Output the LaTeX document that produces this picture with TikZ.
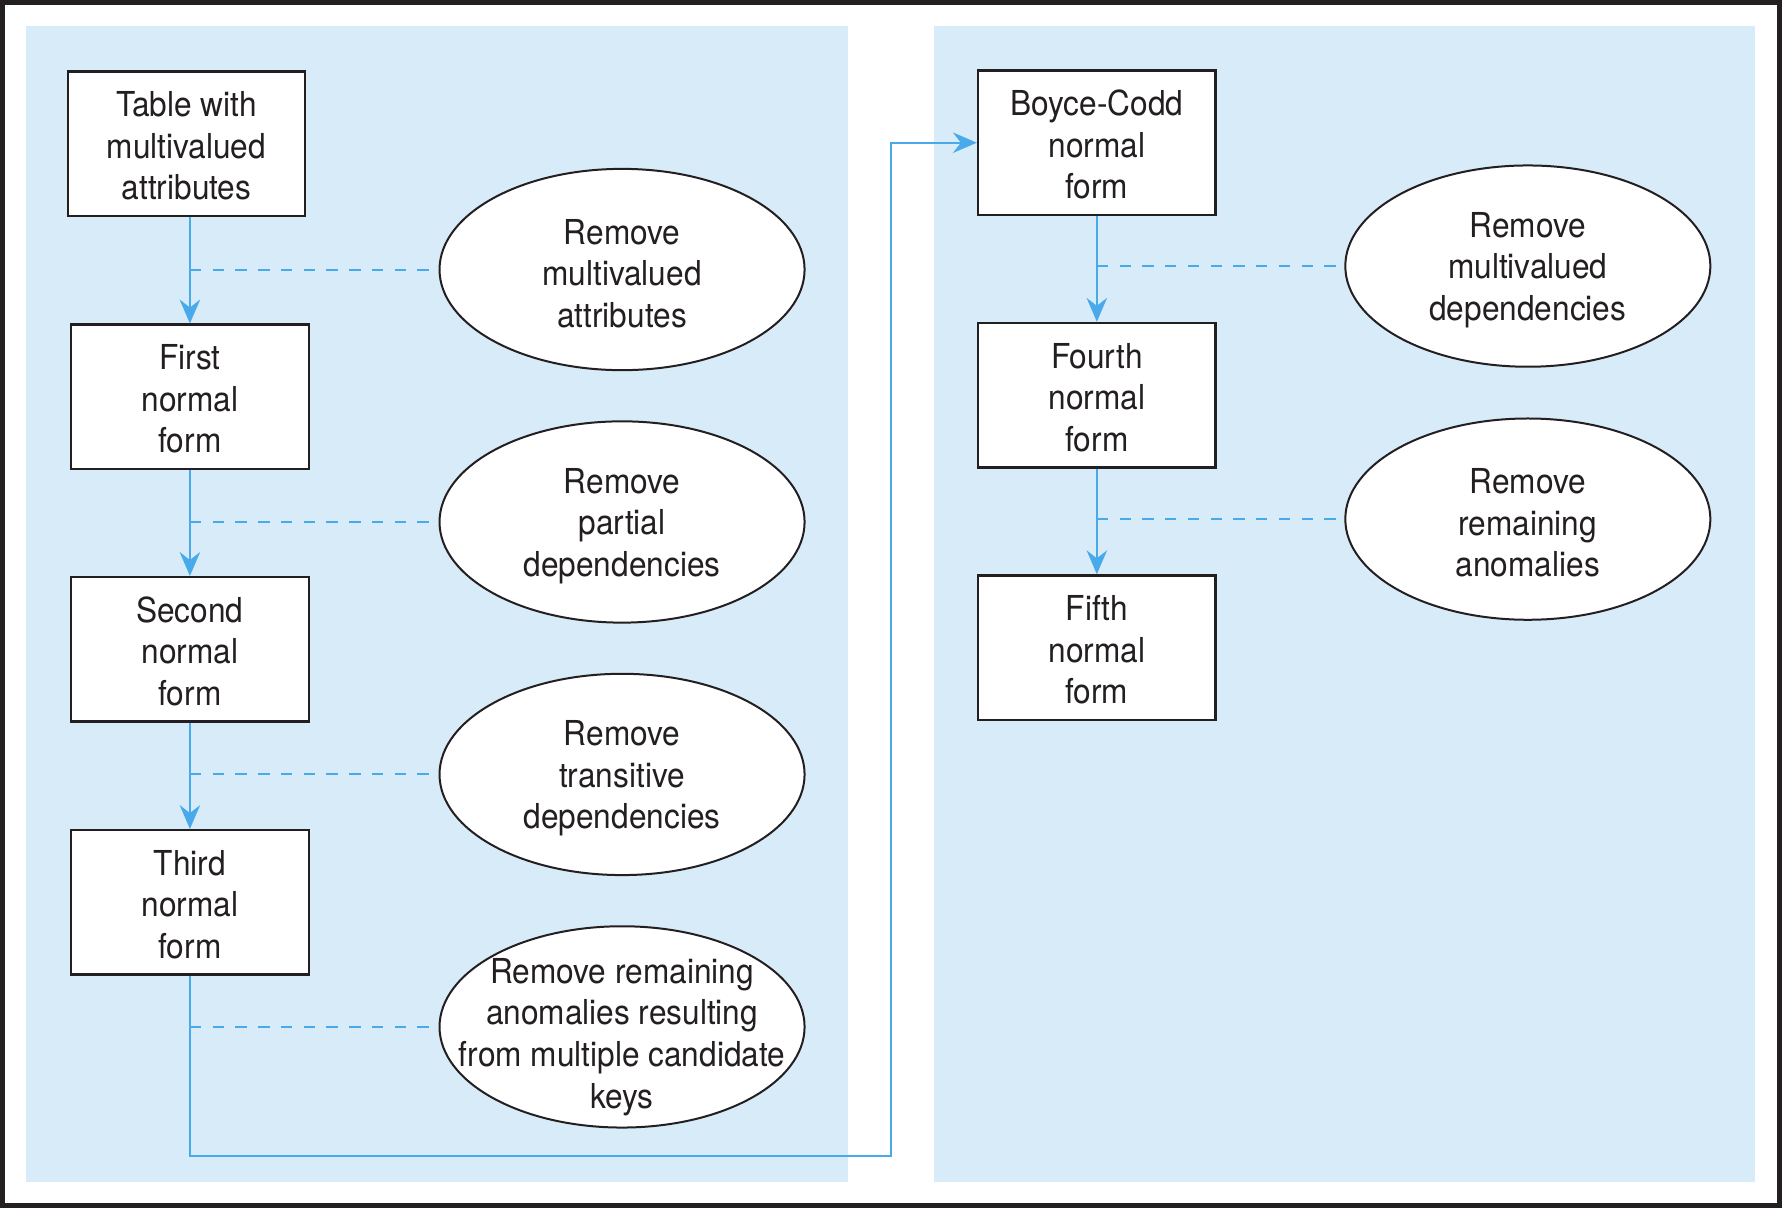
\documentclass[tikz,border=0pt]{standalone}
\usepackage{fontspec}
\setmainfont{TeX Gyre Heros}[FakeStretch=0.92]
\usetikzlibrary{shapes.geometric,arrows.meta}

\definecolor{FrameColor}{RGB}{35,31,32}
\definecolor{PanelColor}{RGB}{216,235,248}
\definecolor{FlowColor}{RGB}{72,170,234}
\newcommand{\padtop}[1]{\rule{0pt}{#1}}
\tikzstyle{base}=[draw=FrameColor,
                  line width=0.6pt,
                  fill=white,
                  text=FrameColor,
                  align=center,
                  font=\fontsize{8.6}{10.4}\selectfont]
\tikzstyle{form}=[base, rectangle, minimum width=2.09cm, minimum height=1.27cm, inner sep=0pt]
\tikzstyle{remove}=[base, ellipse, line width=0.5pt, minimum width=3.21cm, minimum height=1.77cm, inner sep=-0.5cm]
\tikzstyle{flow}=[draw=FlowColor, line width=0.5pt, -{Stealth[length=0.21cm, width=0.18cm, inset=0.07cm]}]
\tikzstyle{link}=[draw=FlowColor, line width=0.5pt, dash pattern=on 0.1cm off 0.1cm]

\begin{document}
\begin{tikzpicture}
    \useasboundingbox (0,0) rectangle (15.67,-10.625);
    \draw[FrameColor, line width=0.044cm] (0.022,-0.022) rectangle (15.648,-10.603);
    \fill[PanelColor] (0.23,-0.23) rectangle (7.46,-10.39);
    \fill[PanelColor] (8.21,-0.23) rectangle (15.43,-10.39);

    \node at (1.64,   -1.265) (table)   [form, minimum width=2.08cm] {\padtop{7.4pt}Table with\\multivalued\\attributes};
    \node at (1.67,   -3.49)  (first)   [form]   {\padtop{7.4pt}First\\normal\\form};
    \node at (1.67,   -5.71)  (second)  [form]   {\padtop{7.4pt}Second\\normal\\form};
    \node at (1.67,   -7.935) (third)   [form]   {\padtop{7.4pt}Third\\normal\\form};
    \node at (9.645,  -1.255) (bcnf)    [form]   {\padtop{7.4pt}Boyce-Codd\\normal\\form};
    \node at (9.645,  -3.475) (fourth)  [form]   {\padtop{7.4pt}Fourth\\normal\\form};
    \node at (9.645,  -5.695) (fifth)   [form]   {\padtop{7.4pt}Fifth\\normal\\form};

    \node at (5.47,   -2.37)  (rm_mva)  [remove] {\padtop{8.2pt}Remove\\multivalued\\attributes};
    \node at (5.47,   -4.59)  (rm_pd)   [remove] {\padtop{8.2pt}Remove\\partial\\dependencies};
    \node at (5.47,   -6.81)  (rm_td)   [remove] {\padtop{8.2pt}Remove\\transitive\\dependencies};
    \node at (5.47,   -9.03)  (rm_ck)   [remove] {\padtop{11.3pt}Remove remaining\\anomalies resulting\\from multiple candidate\\keys};
    \node at (13.435, -2.34)  (rm_mvd)  [remove] {\padtop{8.2pt}Remove\\multivalued\\dependencies};
    \node at (13.435, -4.565) (rm_ra)   [remove] {\padtop{8.2pt}Remove\\remaining\\anomalies};

    \coordinate (turn) at (7.834, -10.163);

    \draw[flow] (table.south -| first.north) -- (first.north);
    \draw[flow] (first)  -- (second);
    \draw[flow] (second) -- (third);
    \draw[flow] (third.south) |- (turn) |- (bcnf.west);
    \draw[flow] (bcnf)   -- (fourth);
    \draw[flow] (fourth) -- (fifth);

    \draw[link] (rm_mva.west -| first.north)  -- (rm_mva.west);
    \draw[link] (rm_pd.west  -| first.north)  -- (rm_pd.west);
    \draw[link] (rm_td.west  -| first.north)  -- (rm_td.west);
    \draw[link] (rm_ck.west  -| first.north)  -- (rm_ck.west);
    \draw[link] (rm_mvd.west -| bcnf.north)   -- (rm_mvd.west);
    \draw[link] (rm_ra.west  -| bcnf.north)   -- (rm_ra.west);
\end{tikzpicture}
\end{document}
